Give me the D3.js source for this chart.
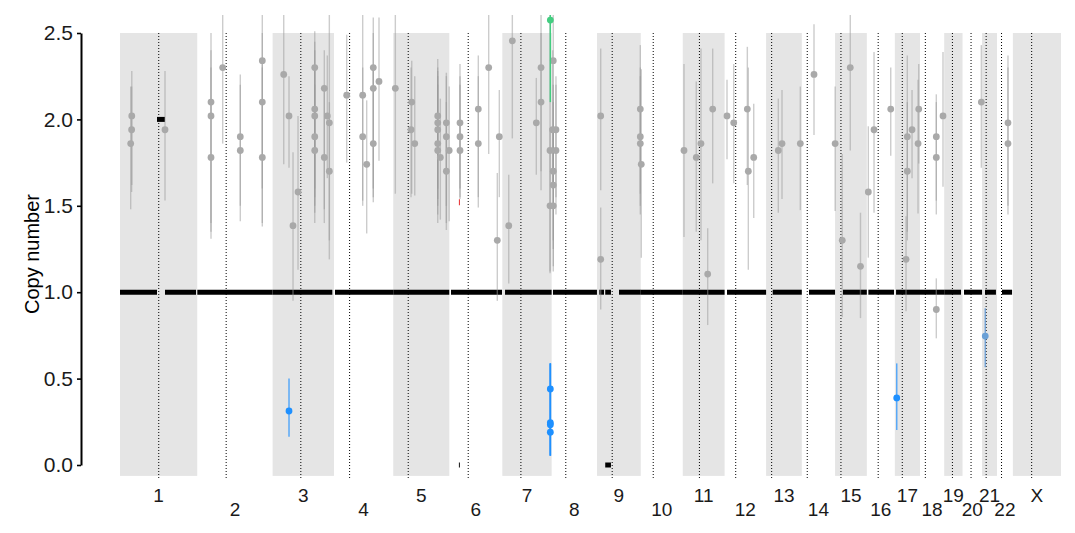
<!DOCTYPE html>
<html>
<head>
<meta charset="utf-8">
<script src="https://cdn.jsdelivr.net/npm/d3@7"></script>
<style>
  html, body { margin: 0; padding: 0; background: #fff; }
  svg { display: block; font-family: "Liberation Sans", Arial, Helvetica, sans-serif; }
</style>
</head>
<body>
<svg id="chart" width="1075" height="533"></svg>
<script>
// ---------- data ----------
const chromNames = ["1","2","3","4","5","6","7","8","9","10","11","12","13","14","15","16","17","18","19","20","21","22","X"];
// chromosome lengths (Mb, hg19)
const chromLengths = [249.25,243.2,198.02,191.15,180.92,171.12,159.14,146.36,141.21,135.53,135.01,133.85,115.17,107.35,102.53,90.35,81.2,78.08,59.13,63.03,48.13,51.3,155.27];
// centromere positions (Mb)
const centromeres = [125.0,93.3,91.0,50.4,48.4,61.0,59.9,45.6,49.0,40.2,53.7,35.8,17.9,17.6,19.0,36.6,24.0,17.2,26.5,27.5,13.2,14.7,60.6];
const yTicks = [0, 0.5, 1.0, 1.5, 2.0, 2.5];

// [chrom, position Mb, copy number, lower, upper]
const greyPoints = [
 ["1",38.0,2.02,1.62,2.28],["1",37.5,1.94,1.58,2.19],["1",34.5,1.86,1.48,2.19],["1",145.2,1.94,1.53,2.28],
 ["2",44.4,2.10,1.31,2.50],["2",44.4,2.02,1.40,2.40],["2",44.4,1.78,1.35,2.30],["2",82.1,2.30,1.86,2.65],
 ["2",138.9,1.90,1.41,2.26],["2",138.9,1.82,1.50,2.20],["2",209.9,2.34,1.38,2.65],["2",209.9,2.10,1.60,2.50],["2",209.9,1.78,1.40,2.30],
 ["3",35.8,2.26,1.74,2.65],["3",52.9,2.02,1.72,2.25],["3",65.8,1.385,0.95,1.81],["3",82.0,1.58,1.13,2.02],
 ["3",135.9,2.30,1.46,2.51],["3",135.9,2.06,1.55,2.45],["3",135.9,2.02,1.60,2.40],["3",135.9,1.90,1.40,2.30],["3",135.9,1.82,1.50,2.20],
 ["3",166.8,2.18,1.48,2.40],["3",166.8,1.78,1.40,2.20],["3",176.5,2.02,1.66,2.37],["3",183.0,1.98,1.19,2.65],["3",183.0,1.70,1.30,2.10],
 ["4",41.0,2.14,1.75,2.49],["4",92.6,2.14,1.53,2.65],["4",92.6,1.90,1.50,2.30],["4",105.5,1.74,1.34,2.11],
 ["4",126.8,2.30,1.52,2.59],["4",126.8,2.18,1.60,2.50],["4",126.8,1.86,1.55,2.30],["4",145.2,2.22,1.76,2.59],
 ["5",6.8,2.18,1.57,2.65],["5",59.7,2.10,1.57,2.34],["5",57.4,1.94,1.55,2.30],["5",69.4,1.86,1.56,2.25],
 ["5",143.6,2.02,1.54,2.28],["5",143.6,1.98,1.60,2.35],["5",143.6,1.94,1.50,2.30],["5",143.6,1.86,1.45,2.25],["5",143.6,1.82,1.40,2.20],
 ["5",152.0,1.78,1.42,2.12],["5",171.4,1.98,1.36,2.27],["5",171.4,1.90,1.50,2.25],["5",171.4,1.70,1.40,2.10],["5",180.5,1.82,1.41,2.19],
 ["6",34.5,1.98,1.54,2.32],["6",34.5,1.90,1.60,2.25],["6",34.5,1.82,1.55,2.20],["6",93.6,2.06,1.49,2.37],["6",93.6,1.86,1.55,2.25],
 ["6",127.1,2.30,1.80,2.65],["6",154.9,1.30,0.95,1.69],["6",161.4,1.90,1.55,2.17],
 ["7",20.7,1.385,1.05,1.68],["7",32.3,2.455,1.89,2.65],["7",109.7,1.98,1.68,2.24],["7",124.9,2.30,1.59,2.65],["7",124.9,2.10,1.70,2.50],
 ["7",153.9,1.82,1.11,2.65],["7",153.9,1.50,1.12,1.95],
 ["8",3.2,1.94,1.60,2.40],["8",5.2,2.34,1.12,2.65],["8",5.2,1.70,1.30,2.20],["8",5.2,1.62,1.25,2.10],["8",5.2,1.50,1.15,1.95],
 ["8",13.9,1.94,1.55,2.25],["8",13.9,1.82,1.45,2.20],
 ["9",11.9,2.02,1.59,2.41],["9",11.9,1.19,0.90,1.49],["9",139.7,2.06,1.57,2.43],["9",139.7,1.90,1.50,2.30],["9",139.7,1.86,1.45,2.25],
 ["10",1.6,1.74,1.20,2.29],
 ["11",3.9,1.82,1.32,2.32],["11",43.6,1.78,1.35,2.22],["11",58.7,1.86,1.30,2.41],["11",80.4,1.105,0.81,1.37],["11",96.5,2.06,1.63,2.41],
 ["12",7.7,2.02,1.77,2.23],["12",29.4,1.98,1.63,2.32],["12",73.3,2.06,1.62,2.42],["12",76.5,1.70,1.13,2.30],["12",93.9,1.78,1.43,2.09],
 ["13",39.4,1.82,1.46,2.12],["13",51.3,1.86,1.54,2.17],["13",110.4,1.86,1.475,2.19],
 ["14",39.4,2.26,1.91,2.55],
 ["15",0.3,1.86,1.47,2.19],["15",23.2,1.30,0.855,1.80],["15",49.1,2.30,1.82,2.65],["15",82.0,1.15,0.85,1.46],
 ["16",4.8,1.58,1.20,1.96],["16",23.2,1.94,1.46,2.39],["16",77.1,2.06,1.79,2.30],
 ["17",36.1,1.19,0.89,1.44],["17",40.3,1.90,1.35,2.37],["17",40.3,1.70,1.30,2.10],["17",55.5,1.94,1.66,2.17],
 ["17",77.1,2.06,1.745,2.32],["17",74.9,1.86,1.455,2.23],
 ["18",52.6,1.90,1.53,2.145],["18",52.6,1.78,1.45,2.10],["18",52.6,0.90,0.733,1.08],["18",74.2,2.02,1.61,2.39],
 ["20",60.7,2.10,1.72,2.43],
 ["22",35.5,1.98,1.50,2.37],["22",35.5,1.86,1.45,2.30]
];
const lossPoints = [
 ["3",52.9,0.3125,0.164,0.50],
 ["7",154.9,0.44,0.054,0.588],["7",154.9,0.245,0.054,0.588],["7",154.9,0.233,0.054,0.588],["7",154.9,0.19,0.054,0.588],
 ["17",6.1,0.388,0.2025,0.588]
];
const lossFaintPoints = [["21",10.3,0.746,0.565,0.907]];
const gainPoints = [["7",154.9,2.575,2.10,2.65]];

// [chrom, start Mb, end Mb, copy number]
const segments = [
 ["1",0,119.4,1],["1",119.4,145.2,2],["1",145.2,245.3,1],
 ["2",0.2,243.2,1],["3",0,192.7,1],["4",3.2,191.15,1],["5",0,180.9,1],
 ["6",5.5,170.1,1],["6",31.0,34.0,0],
 ["7",8.7,159.1,1],["8",4.2,146.2,1],
 ["9",7.4,22.6,1],["9",26.5,45.0,1],["9",26.5,45.0,0],["9",71.0,141.2,1],
 ["10",0,135.5,1],["11",0,135.0,1],["12",7.7,133.85,1],["13",21.3,115.2,1],["14",23.2,107.3,1],
 ["15",25.5,102.5,1],["16",4.9,87.8,1],["17",3.9,81.2,1],["18",0,78.08,1],["19",0,54.2,1],
 ["20",4.8,63.0,1],["21",9.4,44.8,1],["22",16.1,48.7,1]
];
const redSegments = [["6",31.0,34.0,1.52]];

// ---------- layout ----------
const svg = d3.select("#chart");
const offsets = {};
let cum = 0;
chromNames.forEach((c, i) => { offsets[c] = cum; cum += chromLengths[i]; });
const total = cum;

const x = d3.scaleLinear().domain([0, total]).range([120, 1061]);
const y = d3.scaleLinear().domain([0, 2.5]).range([465, 33]);
const gx = (c, p) => x(offsets[c] + p);

svg.append("rect").attr("width", 1075).attr("height", 533).attr("fill", "#fff");

// alternating chromosome bands
const bandIdx = chromNames.map((c, i) => i).filter(i => i % 2 === 0 || chromNames[i] === "X");
svg.append("g").selectAll("rect").data(bandIdx).join("rect")
  .attr("x", i => x(offsets[chromNames[i]]))
  .attr("width", i => x(offsets[chromNames[i]] + chromLengths[i]) - x(offsets[chromNames[i]]))
  .attr("y", y(2.5))
  .attr("height", y(-0.063) - y(2.5))
  .attr("fill", "#e5e5e5");

// centromere dotted lines
svg.append("g").selectAll("line").data(chromNames).join("line")
  .attr("x1", (c, i) => gx(c, centromeres[i]))
  .attr("x2", (c, i) => gx(c, centromeres[i]))
  .attr("y1", y(2.5)).attr("y2", y(-0.075))
  .attr("stroke", "#000").attr("stroke-width", 1)
  .attr("stroke-dasharray", "1,2");

const defs = svg.append("defs");
defs.append("clipPath").attr("id", "clip").append("rect")
  .attr("x", 82).attr("y", y(2.604)).attr("width", 1000).attr("height", 500);
const plot = svg.append("g").attr("clip-path", "url(#clip)");

// segments
plot.append("g").selectAll("line").data(segments).join("line")
  .attr("x1", d => gx(d[0], d[1])).attr("x2", d => gx(d[0], d[2]))
  .attr("y1", d => y(d[3])).attr("y2", d => y(d[3]))
  .attr("stroke", "#000").attr("stroke-width", 5);
plot.append("g").selectAll("line").data(redSegments).join("line")
  .attr("x1", d => gx(d[0], d[1])).attr("x2", d => gx(d[0], d[2]))
  .attr("y1", d => y(d[3])).attr("y2", d => y(d[3]))
  .attr("stroke", "#e41a1c").attr("stroke-width", 6);

function drawGroup(data, barColor, barOpacity, barWidth, ptColor) {
  const g = plot.append("g");
  g.selectAll("line").data(data).join("line")
    .attr("x1", d => gx(d[0], d[1])).attr("x2", d => gx(d[0], d[1]))
    .attr("y1", d => y(d[3])).attr("y2", d => y(d[4]))
    .attr("stroke", barColor).attr("stroke-width", barWidth).attr("stroke-opacity", barOpacity);
  g.selectAll("circle").data(data).join("circle")
    .attr("cx", d => gx(d[0], d[1])).attr("cy", d => y(d[2]))
    .attr("r", 3.4).attr("fill", ptColor);
}
drawGroup(greyPoints, "#9a9a9a", 0.5, 1.4, "#a9a9a9");
drawGroup(lossPoints, "#1e90ff", 0.7, 1.5, "#1e90ff");
drawGroup(lossFaintPoints, "#5b96d4", 0.8, 1.4, "#6aa0d6");
drawGroup(gainPoints, "#43cd80", 1, 1.5, "#43cd80");

// y axis
const yAxis = svg.append("g").attr("transform", "translate(81,0)")
  .call(d3.axisLeft(y).tickValues(yTicks).tickFormat(d3.format(".1f")).tickSize(4).tickSizeOuter(0).tickPadding(4));
yAxis.select(".domain").attr("stroke", "#000").attr("stroke-width", 2);
yAxis.selectAll(".tick line").attr("stroke", "#000").attr("stroke-width", 1.6);
yAxis.selectAll(".tick text").attr("fill", "#1a1a1a").attr("font-size", 21)
  .attr("font-family", "Liberation Sans, Arial, sans-serif");

svg.append("text")
  .attr("transform", "translate(38.5,254) rotate(-90)")
  .attr("text-anchor", "middle").attr("font-size", 20).attr("fill", "#000")
  .text("Copy number");

// chromosome labels
svg.append("g").selectAll("text").data(chromNames).join("text")
  .attr("x", (c, i) => gx(c, chromLengths[i] / 2))
  .attr("y", (c, i) => i % 2 === 0 ? 501.5 : 516)
  .attr("text-anchor", "middle").attr("font-size", 19).attr("fill", "#1a1a1a")
  .text(c => c);
</script>
</body>
</html>
